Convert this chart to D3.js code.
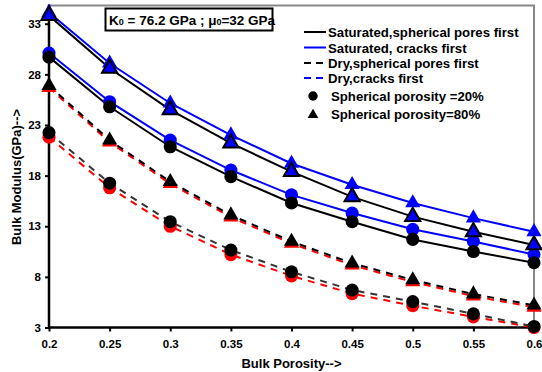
<!DOCTYPE html>
<html lang="en">
<head>
<meta charset="utf-8">
<style>
  body { margin: 0; background: #fff; }
  svg text { font-family: "Liberation Sans", Arial, sans-serif; font-weight: bold; fill: #000; }
</style>
</head>
<body>
<div id="chart"></div>
<script src="https://d3js.org/d3.v7.min.js"></script>
<script>
// bulk porosity on x
var porosity = [0.2, 0.25, 0.3, 0.35, 0.4, 0.45, 0.5, 0.55, 0.6];
var xTickLabels = ["0.2", "0.25", "0.3", "0.35", "0.4", "0.45", "0.5", "0.55", "0.6"];
var yTicks = [3, 8, 13, 18, 23, 28, 33];

// bulk modulus (GPa)
var satSph20 = [29.7, 24.8, 20.85, 17.9, 15.3, 13.45, 11.7, 10.5, 9.4];
var satCrk20 = [30.1, 25.3, 21.5, 18.55, 16.1, 14.3, 12.7, 11.5, 10.2];
var satSph80 = [33.8, 28.6, 24.5, 21.2, 18.4, 15.9, 13.95, 12.45, 11.15];
var satCrk80 = [34.1, 29.1, 25.15, 22.0, 19.2, 17.1, 15.3, 13.8, 12.45];
var drySph20 = [22.25, 17.25, 13.45, 10.65, 8.5, 6.7, 5.55, 4.35, 3.1];
var dryCrk20 = [21.8, 16.8, 13.0, 10.2, 8.1, 6.35, 5.15, 4.05, 3.0];
var drySph80 = [26.9, 21.5, 17.4, 14.1, 11.5, 9.35, 7.7, 6.3, 5.2];
var dryCrk80 = [26.7, 21.3, 17.2, 13.9, 11.3, 9.15, 7.5, 6.1, 5.0];

var legendNames = ["Saturated,spherical pores first", "Saturated, cracks first",
  "Dry,spherical pores first", "Dry,cracks first",
  "Spherical porosity =20%", "Spherical porosity=80%"];

var width = 542, height = 372;
var pLeft = 49, pRight = 534, pTop = 5.5, pBottom = 327.5;

var svg = d3.select("#chart").append("svg")
  .attr("width", width).attr("height", height);

var x = d3.scaleLinear().domain([0.2, 0.6]).range([pLeft, pRight]);
var y = d3.scaleLinear().domain([3, 34.8]).range([pBottom, pTop]);

// frame: gray top/right
svg.append("path")
  .attr("d", "M" + pLeft + "," + pTop + "H" + pRight + "V" + pBottom)
  .attr("fill", "none").attr("stroke", "#888").attr("stroke-width", 2);

// axes
var yAxis = svg.append("g").attr("transform", "translate(" + pLeft + ",0)")
  .call(d3.axisLeft(y).tickValues(yTicks).tickSize(4).tickPadding(4));
var xAxis = svg.append("g").attr("transform", "translate(0," + pBottom + ")")
  .call(d3.axisBottom(x).tickValues(porosity).tickSize(4).tickPadding(8)
    .tickFormat(function(d, i) { return xTickLabels[i]; }));
[yAxis, xAxis].forEach(function(g) {
  g.select(".domain").remove();
  g.selectAll(".tick line").attr("stroke", "#000").attr("stroke-width", 2);
  g.selectAll(".tick text").style("font-size", "11.5px").attr("fill", "#000");
});
svg.append("line").attr("x1", pLeft).attr("x2", pLeft).attr("y1", pTop - 1).attr("y2", pBottom + 1)
  .attr("stroke", "#000").attr("stroke-width", 2.5);
svg.append("line").attr("x1", pLeft - 1).attr("x2", pRight).attr("y1", pBottom).attr("y2", pBottom)
  .attr("stroke", "#000").attr("stroke-width", 2.5);

// axis titles
svg.append("text").attr("x", (pLeft + pRight) / 2).attr("y", 368)
  .attr("text-anchor", "middle").style("font-size", "13px").text("Bulk Porosity-->");
svg.append("text").attr("transform", "translate(21,177) rotate(-90)")
  .attr("text-anchor", "middle").style("font-size", "13px").text("Bulk Modulus(GPa)-->");

var line = d3.line().x(function(d, i) { return x(porosity[i]); }).y(function(d) { return y(d); });

var series = [
  { v: dryCrk20, stroke: "#f00", dash: "7,6", marker: "circle", fill: "#f00", ms: "none" },
  { v: dryCrk80, stroke: "#f00", dash: "7,6", marker: "tri", fill: "#f00", ms: "none" },
  { v: drySph20, stroke: "#333", dash: "7,6", marker: "circle", fill: "#000", ms: "none" },
  { v: drySph80, stroke: "#000", dash: "7,6", marker: "tri", fill: "#000", ms: "none" },
  { v: satCrk20, stroke: "#00f", dash: null, marker: "circle", fill: "#00f", ms: "none" },
  { v: satCrk80, stroke: "#00f", dash: null, marker: "tri", fill: "#00f", ms: "none" },
  { v: satSph20, stroke: "#000", dash: null, marker: "circle", fill: "#000", ms: "none" },
  { v: satSph80, stroke: "#000", dash: null, marker: "tri", fill: "#00f", ms: "#000" }
];

series.forEach(function(s) {
  svg.append("path").datum(s.v).attr("d", line)
    .attr("fill", "none").attr("stroke", s.stroke).attr("stroke-width", 2)
    .attr("stroke-dasharray", s.dash);
});

var circleSym = d3.symbol().type(d3.symbolCircle).size(135);
var triSym = d3.symbol().type(d3.symbolTriangle).size(100);

series.forEach(function(s) {
  svg.append("g").selectAll("path").data(s.v).enter().append("path")
    .attr("transform", function(d, i) { return "translate(" + x(porosity[i]) + "," + y(d) + ")"; })
    .attr("d", s.marker == "circle" ? circleSym : triSym)
    .attr("fill", s.fill)
    .attr("stroke", s.ms).attr("stroke-width", 2);
});

// K0 / mu0 box
svg.append("rect").attr("x", 105.5).attr("y", 8.5).attr("width", 167).attr("height", 22)
  .attr("fill", "#fff").attr("stroke", "#000").attr("stroke-width", 2);
var kt = svg.append("text").attr("x", 109).attr("y", 24.5).style("font-size", "13.5px");
kt.append("tspan").text("K");
kt.append("tspan").style("font-size", "9px").text("0");
kt.append("tspan").text(" = 76.2 GPa ; \u03bc");
kt.append("tspan").style("font-size", "9px").text("0");
kt.append("tspan").text("=32 GPa");

// legend
var legY = [32, 47.5, 63, 78, 96, 114];
var legLines = [
  { stroke: "#000", dash: null }, { stroke: "#00f", dash: null },
  { stroke: "#000", dash: "7,5" }, { stroke: "#00f", dash: "7,5" }
];
var legend = svg.append("g");
legLines.forEach(function(l, i) {
  legend.append("line").attr("x1", 304).attr("x2", 326).attr("y1", legY[i]).attr("y2", legY[i])
    .attr("stroke", l.stroke).attr("stroke-width", 2).attr("stroke-dasharray", l.dash);
});
legend.append("path").attr("transform", "translate(313," + legY[4] + ")")
  .attr("d", d3.symbol().type(d3.symbolCircle).size(70)).attr("fill", "#000");
legend.append("path").attr("transform", "translate(313," + (legY[5] + 1) + ")")
  .attr("d", d3.symbol().type(d3.symbolTriangle).size(50)).attr("fill", "#000");
legendNames.forEach(function(n, i) {
  legend.append("text").attr("x", i < 4 ? 328 : 331).attr("y", legY[i] + 5)
    .style("font-size", "13.2px").text(n);
});
</script>
</body>
</html>
